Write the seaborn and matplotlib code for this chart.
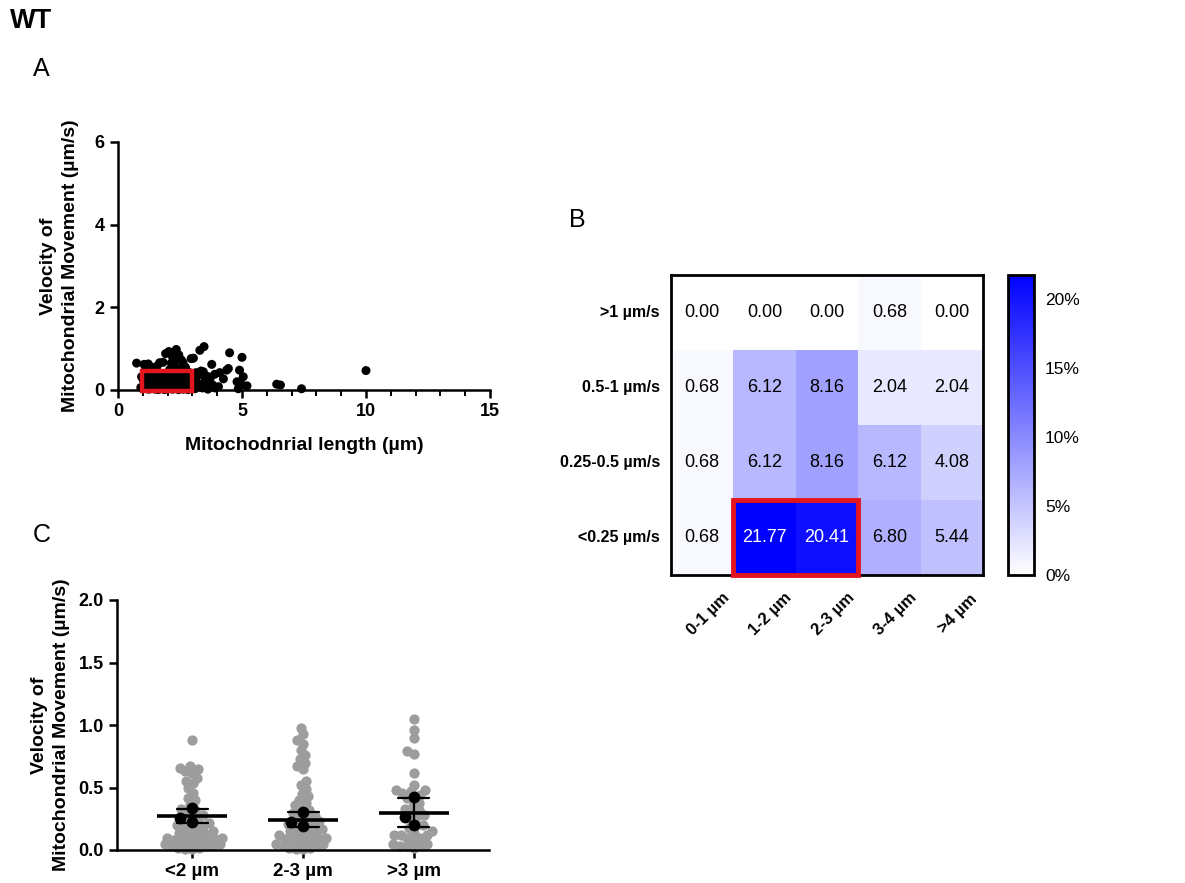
import numpy as np
import pandas as pd
import matplotlib
matplotlib.use("Agg")
import matplotlib.pyplot as plt
import matplotlib.transforms as mtransforms
import seaborn as sns
from matplotlib.colors import LinearSegmentedColormap
from matplotlib.patches import Rectangle
from matplotlib.ticker import MultipleLocator, FuncFormatter, FormatStrFormatter

sns.set_theme(style="ticks")
plt.rcParams['font.family'] = ['Liberation Sans', 'DejaVu Sans']
plt.rcParams.update({'text.color': 'black', 'axes.labelcolor': 'black',
                     'xtick.color': 'black', 'ytick.color': 'black'})

# ---------------- data: individual mitochondria (length, velocity) ----------------
length_um = [
    0.75, 0.95, 0.92,
    1.92, 1.82, 1.68, 1.22, 1.05, 1.58, 1.36, 1.48, 1.12,
    1.15, 1.42, 1.75, 1.30, 1.88, 1.55, 1.08, 1.65, 1.95,
    1.02, 1.18, 1.33, 1.47, 1.61, 1.77, 1.90, 1.25, 1.40, 1.55, 1.70, 1.85,
    1.10, 1.28, 1.45, 1.60, 1.80, 1.96, 1.05, 1.20, 1.38, 1.52, 1.66, 1.83,
    1.93, 1.15, 1.32, 1.50, 1.72, 1.88, 1.25, 1.62,
    2.35, 2.05, 2.12, 2.45, 2.20, 2.95, 2.55, 2.30, 2.62, 2.15, 2.72, 2.40,
    2.08, 2.50, 2.85, 2.25, 2.65, 2.02, 2.78, 2.38, 2.92, 2.18, 2.58, 2.70,
    2.03, 2.22, 2.41, 2.60, 2.80, 2.97, 2.12, 2.33, 2.52, 2.73, 2.90,
    2.06, 2.27, 2.47, 2.66, 2.85, 2.15, 2.36, 2.56, 2.76, 2.94,
    2.09, 2.30, 2.50, 2.69, 2.88, 2.20, 2.44, 2.63, 2.82,
    3.47, 3.30, 3.04, 3.78,
    3.44, 3.15, 3.90, 3.22, 3.60, 3.72, 3.10, 3.52, 3.35,
    3.70, 3.05, 3.50, 3.25, 3.82, 3.20, 3.92, 3.40, 3.10, 3.62,
    4.50, 5.00, 4.45,
    4.10, 4.38, 4.90, 5.05, 4.25, 10.0,
    4.80, 5.20, 5.00, 4.85, 4.05, 6.40, 6.55, 7.40,
]
velocity_um_s = [
    0.65, 0.32, 0.06,
    0.88, 0.67, 0.66, 0.63, 0.62, 0.58, 0.55, 0.54, 0.50,
    0.46, 0.42, 0.40, 0.36, 0.33, 0.30, 0.28, 0.27, 0.26,
    0.24, 0.23, 0.21, 0.22, 0.19, 0.20, 0.18, 0.17, 0.16, 0.14, 0.15, 0.13,
    0.12, 0.11, 0.12, 0.10, 0.09, 0.10, 0.08, 0.07, 0.06, 0.08, 0.05, 0.07,
    0.04, 0.03, 0.05, 0.02, 0.03, 0.01, 0.02, 0.01,
    0.98, 0.93, 0.88, 0.85, 0.80, 0.76, 0.73, 0.70, 0.67, 0.65, 0.55, 0.52,
    0.49, 0.45, 0.43, 0.40, 0.38, 0.36, 0.34, 0.32, 0.30, 0.29, 0.27, 0.26,
    0.24, 0.23, 0.22, 0.21, 0.20, 0.19, 0.18, 0.16, 0.17, 0.15, 0.14,
    0.12, 0.13, 0.11, 0.12, 0.10, 0.09, 0.08, 0.09, 0.07, 0.08,
    0.05, 0.06, 0.04, 0.05, 0.03, 0.02, 0.01, 0.02, 0.01,
    1.05, 0.96, 0.77, 0.62,
    0.44, 0.42, 0.38, 0.35, 0.33, 0.30, 0.28, 0.27, 0.46,
    0.24, 0.20, 0.18, 0.15, 0.12, 0.10, 0.05, 0.05, 0.03, 0.02,
    0.90, 0.79, 0.52,
    0.42, 0.48, 0.48, 0.32, 0.27, 0.47,
    0.20, 0.10, 0.12, 0.03, 0.08, 0.14, 0.12, 0.03,
]

# ---------------- heatmap (% of mitochondria) ----------------
speed_bins = [">1 µm/s", "0.5-1 µm/s", "0.25-0.5 µm/s", "<0.25 µm/s"]
length_bins = ["0-1 µm", "1-2 µm", "2-3 µm", "3-4 µm", ">4 µm"]
pct_gt1 = [0.00, 0.00, 0.00, 0.68, 0.00]
pct_05_1 = [0.68, 6.12, 8.16, 2.04, 2.04]
pct_025_05 = [0.68, 6.12, 8.16, 6.12, 4.08]
pct_lt025 = [0.68, 21.77, 20.41, 6.80, 5.44]

# ---------------- panel C groups ----------------
group_labels = ["<2 µm", "2-3 µm", ">3 µm"]
group_edges = [0, 2, 3, np.inf]
replicate_lt2 = [0.333, 0.227, 0.253]
replicate_2_3 = [0.307, 0.192, 0.227]
replicate_gt3 = [0.427, 0.200, 0.267]

W, H = 1185, 883
fig = plt.figure(figsize=(W / 100, H / 100), dpi=100)
fig.patch.set_facecolor('white')

def fbox(l, t, r, b):
    return [l / W, 1 - b / H, (r - l) / W, (b - t) / H]

BOLD = dict(fontweight='bold')

def style_axis(ax, lw=1.8):
    for s in ['top', 'right']:
        ax.spines[s].set_visible(False)
    for s in ['left', 'bottom']:
        ax.spines[s].set_linewidth(lw)
        ax.spines[s].set_color('black')
    ax.tick_params(which='major', direction='out', length=6, width=lw, colors='black',
                   labelsize=13)
    ax.tick_params(which='minor', direction='out', length=4, width=1.4, colors='black')
    for lab in ax.get_xticklabels() + ax.get_yticklabels():
        lab.set_fontweight('bold')

# ---------------- Panel A ----------------
ax_a = fig.add_axes(fbox(118, 142, 490, 390))
sns.scatterplot(x=length_um, y=velocity_um_s, color='black', s=42, edgecolor='none',
                ax=ax_a, clip_on=False, zorder=3, legend=False)
ax_a.set_xlim(0, 15)
ax_a.set_ylim(0, 6)
ax_a.set_xticks([0, 5, 10, 15])
ax_a.xaxis.set_minor_locator(MultipleLocator(1))
ax_a.set_yticks([0, 2, 4, 6])
ax_a.add_patch(Rectangle((0.97, -0.03), 2.0, 0.49, fill=False, ec='#e3161f', lw=3.2,
                         zorder=5, clip_on=False))
ax_a.set_xlabel("Mitochodnrial length (µm)", fontsize=14, labelpad=12, **BOLD)
ax_a.set_ylabel("Velocity of\nMitochondrial Movement (µm/s)", fontsize=14, labelpad=11,
                linespacing=1.4, **BOLD)
style_axis(ax_a)

# ---------------- Panel B ----------------
heat = pd.DataFrame([pct_gt1, pct_05_1, pct_025_05, pct_lt025],
                    index=speed_bins, columns=length_bins)
cmap = LinearSegmentedColormap.from_list('white_blue', ['#ffffff', '#0000ff'])
ax_b = fig.add_axes(fbox(671, 275, 983, 575))
ax_cb = fig.add_axes(fbox(1008, 275, 1034, 575))
sns.heatmap(heat, ax=ax_b, cbar_ax=ax_cb, cmap=cmap, vmin=0, vmax=21.77,
            annot=True, fmt='.2f', annot_kws={'fontsize': 13},
            cbar_kws={'ticks': [0, 5, 10, 15, 20],
                      'format': FuncFormatter(lambda v, p: f"{v:.0f}%")})
for t in ax_b.texts:
    t.set_color('white' if float(t.get_text()) > 15 else 'black')
for s in ax_b.spines.values():
    s.set_visible(True)
    s.set_linewidth(2)
    s.set_color('black')
ax_b.tick_params(axis='y', length=0, pad=8)
ax_b.tick_params(axis='x', length=0, pad=28)
ax_b.set_yticklabels(speed_bins, rotation=0, fontsize=11.5, **BOLD)
ax_b.set_xticklabels(length_bins, rotation=45, ha='center', va='center',
                     rotation_mode='anchor', fontsize=12, **BOLD)
shift = mtransforms.ScaledTranslation(6 / 100, 0, fig.dpi_scale_trans)
for lab in ax_b.get_xticklabels():
    lab.set_transform(lab.get_transform() + shift)
ax_b.set_xlabel("")
ax_b.set_ylabel("")
ax_b.add_patch(Rectangle((1, 3), 2, 1, fill=False, ec='#e3161f', lw=3.5, zorder=5,
                         clip_on=False))
cb = ax_b.collections[0].colorbar
cb.outline.set_linewidth(2)
cb.outline.set_edgecolor('black')
ax_cb.tick_params(axis='y', direction='in', left=True, right=True, length=4, width=1.5,
                  labelsize=12.5, pad=8, colors='black')

# ---------------- Panel C ----------------
df_c = pd.DataFrame({'length': length_um, 'velocity': velocity_um_s})
df_c['group'] = pd.cut(df_c['length'], bins=group_edges, labels=group_labels, right=False)
df_m = pd.DataFrame({
    'group': [group_labels[0]] * len(replicate_lt2) + [group_labels[1]] * len(replicate_2_3)
             + [group_labels[2]] * len(replicate_gt3),
    'velocity': replicate_lt2 + replicate_2_3 + replicate_gt3,
})

ax_c = fig.add_axes(fbox(117, 600, 489, 850))
sns.swarmplot(data=df_c, x='group', y='velocity', order=group_labels, color='#9d9d9d',
              size=4.8, ax=ax_c, zorder=1, clip_on=False, warn_thresh=1)
gray_swarms = list(ax_c.collections)
sns.pointplot(data=df_m, x='group', y='velocity', order=group_labels, errorbar='sd',
              capsize=0.28, color='black', markers='_', markersize=50,
              markeredgewidth=2.6, linestyle='none', err_kws={'linewidth': 1.6},
              ax=ax_c, zorder=3)
sns.swarmplot(data=df_m, x='group', y='velocity', order=group_labels, color='black',
              size=8.5, ax=ax_c, zorder=4, clip_on=False)
ax_c.set_xlim(-0.68, 2.68)
ax_c.set_ylim(0, 2.0)
ax_c.set_yticks([0, 0.5, 1.0, 1.5, 2.0])
ax_c.yaxis.set_major_formatter(FormatStrFormatter('%.1f'))
ax_c.set_xlabel("")
ax_c.set_ylabel("Velocity of\nMitochondrial Movement (µm/s)", fontsize=14, labelpad=6,
                linespacing=1.4, **BOLD)
style_axis(ax_c)
ax_c.tick_params(axis='x', labelsize=13.5)
for lab in ax_c.get_xticklabels():
    lab.set_fontweight('bold')

# ---------------- panel letters ----------------
fig.text(10 / W, 1 - 28 / H, "WT", fontsize=19.5, fontweight='bold', ha='left', va='baseline')
fig.text(33 / W, 1 - 76 / H, "A", fontsize=18, ha='left', va='baseline')
fig.text(569 / W, 1 - 227 / H, "B", fontsize=18, ha='left', va='baseline')
fig.text(33 / W, 1 - 542 / H, "C", fontsize=18, ha='left', va='baseline')

# let seaborn lay out the swarm, then freeze it and enlarge the grey dots so they
# overlap like the original (GraphPad-style) scatter
fig.canvas.draw()
for coll in gray_swarms:
    if 'draw' in coll.__dict__:
        del coll.draw
    coll.set_sizes([7.4 ** 2])

fig.savefig("out.png", dpi=100, facecolor='white')
